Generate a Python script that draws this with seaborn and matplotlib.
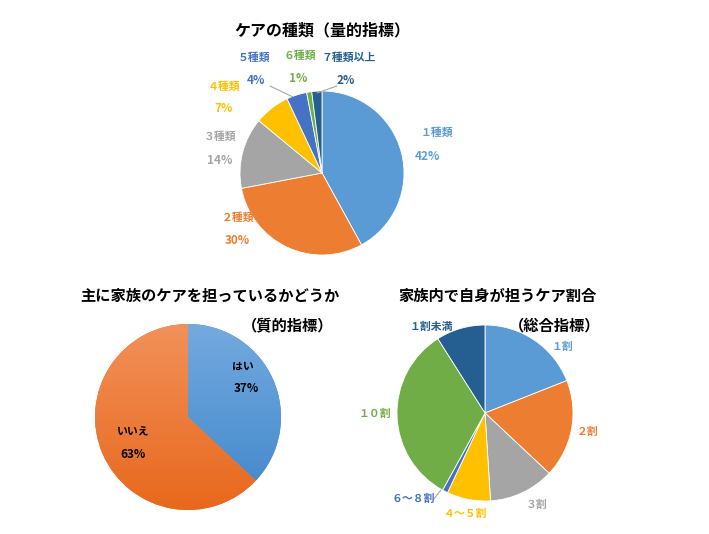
import numpy as np
import matplotlib
matplotlib.use("Agg")
import matplotlib.pyplot as plt
import seaborn as sns

sns.set_theme(style="white")
plt.rcParams['font.family'] = ['Noto Sans CJK JP', 'DejaVu Sans']

# ---- data ----
types_labels = ["１種類", "２種類", "３種類", "４種類", "５種類", "６種類", "７種類以上"]
types_values = [42, 30, 14, 7, 4, 1, 2]

main_labels = ["はい", "いいえ"]
main_values = [37, 63]

share_labels = ["１割", "２割", "３割", "４～５割", "６～８割", "１０割", "１割未満"]
share_values = [19, 18, 12, 8, 1, 33, 9]

office = ["#5B9BD5", "#ED7D31", "#A5A5A5", "#FFC000", "#4472C4", "#70AD47", "#255E91"]
palette = sns.color_palette(office)

W, H = 709, 534
fig = plt.figure(figsize=(W / 100, H / 100), dpi=100)
fig.patch.set_facecolor("white")


def pie_axes(cx, cy, r):
    ax = fig.add_axes([(cx - r) / W, 1 - (cy + r) / H, 2 * r / W, 2 * r / H])
    ax.axis("off")
    return ax


def fix_limits(ax):
    ax.set_xlim(-1, 1)
    ax.set_ylim(-1, 1)
    ax.set_aspect("equal")
    ax.axis("off")


def ftext(x, y, s, color, size=7.8, ha="center"):
    fig.text(x / W, 1 - y / H, s, color=color, fontsize=size, fontweight="bold",
             ha=ha, va="center")


def fline(x0, y0, x1, y1):
    fig.add_artist(plt.Line2D([x0 / W, x1 / W], [1 - y0 / H, 1 - y1 / H],
                              color="#A6A6A6", lw=0.8))


# ---- top pie ----
ax1 = pie_axes(322, 173, 82)
ax1.pie(types_values, colors=palette, startangle=90, counterclock=False, radius=1,
        wedgeprops=dict(edgecolor="white", linewidth=0.6))
fix_limits(ax1)
ftext(322, 30, "ケアの種類（量的指標）", "#000000", size=11.5)
pos_name = [(437, 133), (238, 218), (220, 137), (224, 87), (254, 58), (300, 56), (349, 58)]
pos_pct = [(427, 156), (237, 241), (220, 160), (224, 109), (256, 80), (298, 78), (346, 80)]
for i, (lab, v) in enumerate(zip(types_labels, types_values)):
    c = palette[i]
    ftext(pos_name[i][0], pos_name[i][1], lab, c)
    ftext(pos_pct[i][0], pos_pct[i][1], f"{v}%", c, size=8.5)
fline(270, 86, 293, 97)
fline(337, 86, 317, 93)

# ---- bottom-left pie (gradient) ----
ax2 = pie_axes(188, 417, 93)
grad_cols = [("#74AADF", "#3F86CB"), ("#F2915A", "#E8681C")]
wedges, _ = ax2.pie(main_values, colors=[g[1] for g in grad_cols], startangle=90,
                    counterclock=False, radius=1, wedgeprops=dict(linewidth=0))
yy = np.linspace(1, 0, 256).reshape(-1, 1)
for w, (c_top, c_bot) in zip(wedges, grad_cols):
    ct = np.array(matplotlib.colors.to_rgb(c_top))
    cb = np.array(matplotlib.colors.to_rgb(c_bot))
    img = ct[None, None, :] * yy[:, :, None] + cb[None, None, :] * (1 - yy[:, :, None])
    img = np.repeat(img, 2, axis=1)
    im = ax2.imshow(img, extent=[-1, 1, -1, 1], origin="upper", aspect="auto", zorder=2)
    im.set_clip_path(w)
fix_limits(ax2)
ftext(210, 296, "主に家族のケアを担っているかどうか", "#000000", size=11)
ftext(288, 325, "（質的指標）", "#000000", size=11)
ftext(243, 367, main_labels[0], "#000000")
ftext(246, 388, f"{main_values[0]}%", "#000000", size=8.5)
ftext(133, 433, main_labels[1], "#000000")
ftext(133, 455, f"{main_values[1]}%", "#000000", size=8.5)

# ---- bottom-right pie ----
ax3 = pie_axes(485, 413, 88)
ax3.pie(share_values, colors=palette, startangle=90, counterclock=False, radius=1,
        wedgeprops=dict(edgecolor="white", linewidth=0.6))
fix_limits(ax3)
ftext(497, 296, "家族内で自身が担うケア割合", "#000000", size=11)
ftext(555, 325, "（総合指標）", "#000000", size=11)
pos_share = [(563, 347), (588, 432), (537, 505), (466, 514), (413, 499), (375, 414), (431, 327)]
for i, lab in enumerate(share_labels):
    ftext(pos_share[i][0], pos_share[i][1], lab, palette[i])
fline(433, 500, 441, 490)

fig.savefig("out.png", dpi=100, facecolor="white")
